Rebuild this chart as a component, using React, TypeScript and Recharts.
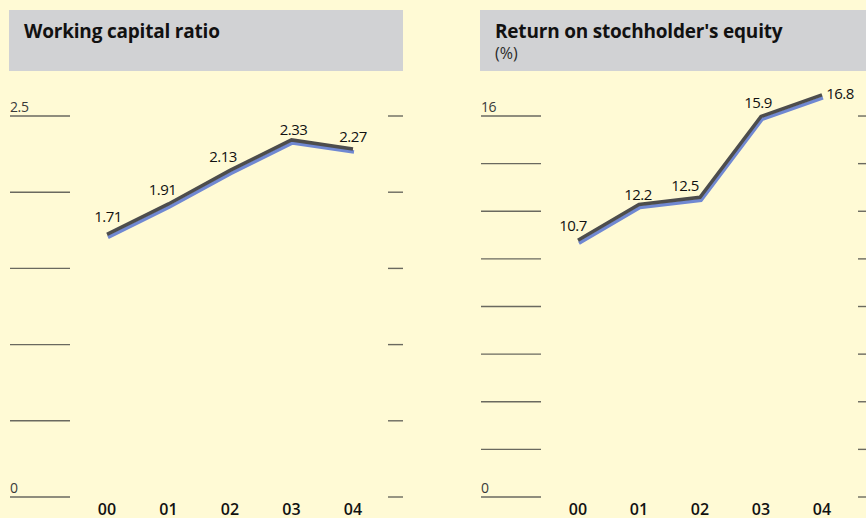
import { LineChart, Line, XAxis, YAxis, LabelList } from 'recharts';

const YEARS = ['00', '01', '02', '03', '04'];
const WORKING_CAPITAL = [1.71, 1.91, 2.13, 2.33, 2.27];
const RETURN_ON_EQUITY = [10.7, 12.2, 12.5, 15.9, 16.8];
const WC_TICKS = [0, 0.5, 1, 1.5, 2, 2.5];
const ROE_TICKS = [0, 2, 4, 6, 8, 10, 12, 14, 16];

// per-point label nudges (dx, dy) relative to the point
const WC_LABEL_OFFSETS = [[1, -14], [-6, -11], [-7, -10], [2, -7], [0, -9]];
const ROE_LABEL_OFFSETS = [[-5, -11], [-1, -7], [-15, -8], [-3, -10], [18, 2]];

const BG = '#fffad5';
const HEADER = '#d1d2d4';
const GRID = '#6a695f';
const FONT = '"Open Sans", "Noto Sans", sans-serif';

const wcData = YEARS.map((year, i) => ({ year, value: WORKING_CAPITAL[i] }));
const roeData = YEARS.map((year, i) => ({ year, value: RETURN_ON_EQUITY[i] }));

function GridTick({ x, y, payload, top, len, rightGap, rightLen }: any) {
  const show = payload.value === top || payload.value === 0;
  return (
    <g>
      <line x1={x - len} x2={x} y1={y} y2={y} stroke={GRID} strokeWidth={1.4} />
      <line x1={x + rightGap} x2={x + rightGap + rightLen} y1={y} y2={y} stroke={GRID} strokeWidth={1.4} />
      {show && (
        <text x={x - len} y={y - 4} fontSize={14} fill="#3a3a3a" fontFamily={FONT} letterSpacing={-0.4}>
          {payload.value}
        </text>
      )}
    </g>
  );
}

function makeLabel(offsets: number[][]) {
  return (props: any) => {
    const { x, y, value, index } = props;
    const [dx, dy] = offsets[index] ?? [0, -12];
    return (
      <text x={x + dx} y={y + dy} textAnchor="middle" fontSize={15} fill="#111" fontFamily={FONT} letterSpacing={-0.6}>
        {value}
      </text>
    );
  };
}

function Panel({ data, ticks, max, top, yWidth, rightMargin, rightGap, rightLen, padL, padR, offsets }: any) {
  return (
    <LineChart width={430} height={518} data={data} margin={{ top, right: rightMargin, bottom: 0, left: 0 }}>
      <XAxis
        dataKey="year"
        axisLine={false}
        tickLine={false}
        height={21}
        padding={{ left: padL, right: padR }}
        tick={{ fontSize: 16, fill: '#111', fontFamily: FONT, fontWeight: 600 }}
        tickSize={0}
        tickMargin={7}
        interval={0}
      />
      <YAxis
        domain={[0, max]}
        ticks={ticks}
        width={yWidth}
        axisLine={false}
        tickLine={false}
        tickSize={0}
        tickMargin={0}
        interval={0}
        tick={<GridTick top={ticks[ticks.length - 1]} len={60} rightGap={rightGap} rightLen={rightLen} />}
      />
      <Line
        dataKey="value"
        stroke="#7088d2"
        strokeWidth={3.5}
        dot={false}
        isAnimationActive={false}
        className="shadow-line"
      />
      <Line
        dataKey="value"
        stroke="#4d4d4d"
        strokeWidth={3.5}
        dot={false}
        isAnimationActive={false}
        className="main-line"
      >
        <LabelList dataKey="value" content={makeLabel(offsets)} />
      </Line>
    </LineChart>
  );
}

export default function App() {
  const titleStyle: any = { position: 'absolute', left: 15, top: 12, fontSize: 19, lineHeight: '19px', fontWeight: 700, color: '#111', letterSpacing: -0.2, whiteSpace: 'nowrap' };
  return (
    <div style={{ position: 'relative', width: 866, height: 518, background: BG, overflow: 'hidden', fontFamily: FONT }}>
      <style>{`
        html, body { margin: 0; padding: 0; overflow: hidden; }
        .shadow-line path { transform: translate(1px, 1px); }
        .main-line path { transform: translate(0px, -2px); }
      `}</style>
      <div style={{ position: 'absolute', left: 9, top: 10, width: 394, height: 61, background: HEADER }}>
        <div style={titleStyle}>Working capital ratio</div>
      </div>
      <div style={{ position: 'absolute', left: 480, top: 10, width: 386, height: 61, background: HEADER }}>
        <div style={titleStyle}>Return on stochholder's equity</div>
        <div style={{ position: 'absolute', left: 15, top: 35, fontSize: 16, lineHeight: '16px', color: '#2a2a2a', fontWeight: 400 }}>(%)</div>
      </div>
      <div style={{ position: 'absolute', left: 0, top: 0 }}>
        <Panel data={wcData} ticks={WC_TICKS} max={2.5} top={116} yWidth={70} rightMargin={42}
          rightGap={318} rightLen={15} padL={37} padR={35} offsets={WC_LABEL_OFFSETS} />
      </div>
      <div style={{ position: 'absolute', left: 436, top: 0 }}>
        <Panel data={roeData} ticks={ROE_TICKS} max={18} top={68.4} yWidth={105} rightMargin={8}
          rightGap={317} rightLen={10} padL={37} padR={36} offsets={ROE_LABEL_OFFSETS} />
      </div>
    </div>
  );
}
